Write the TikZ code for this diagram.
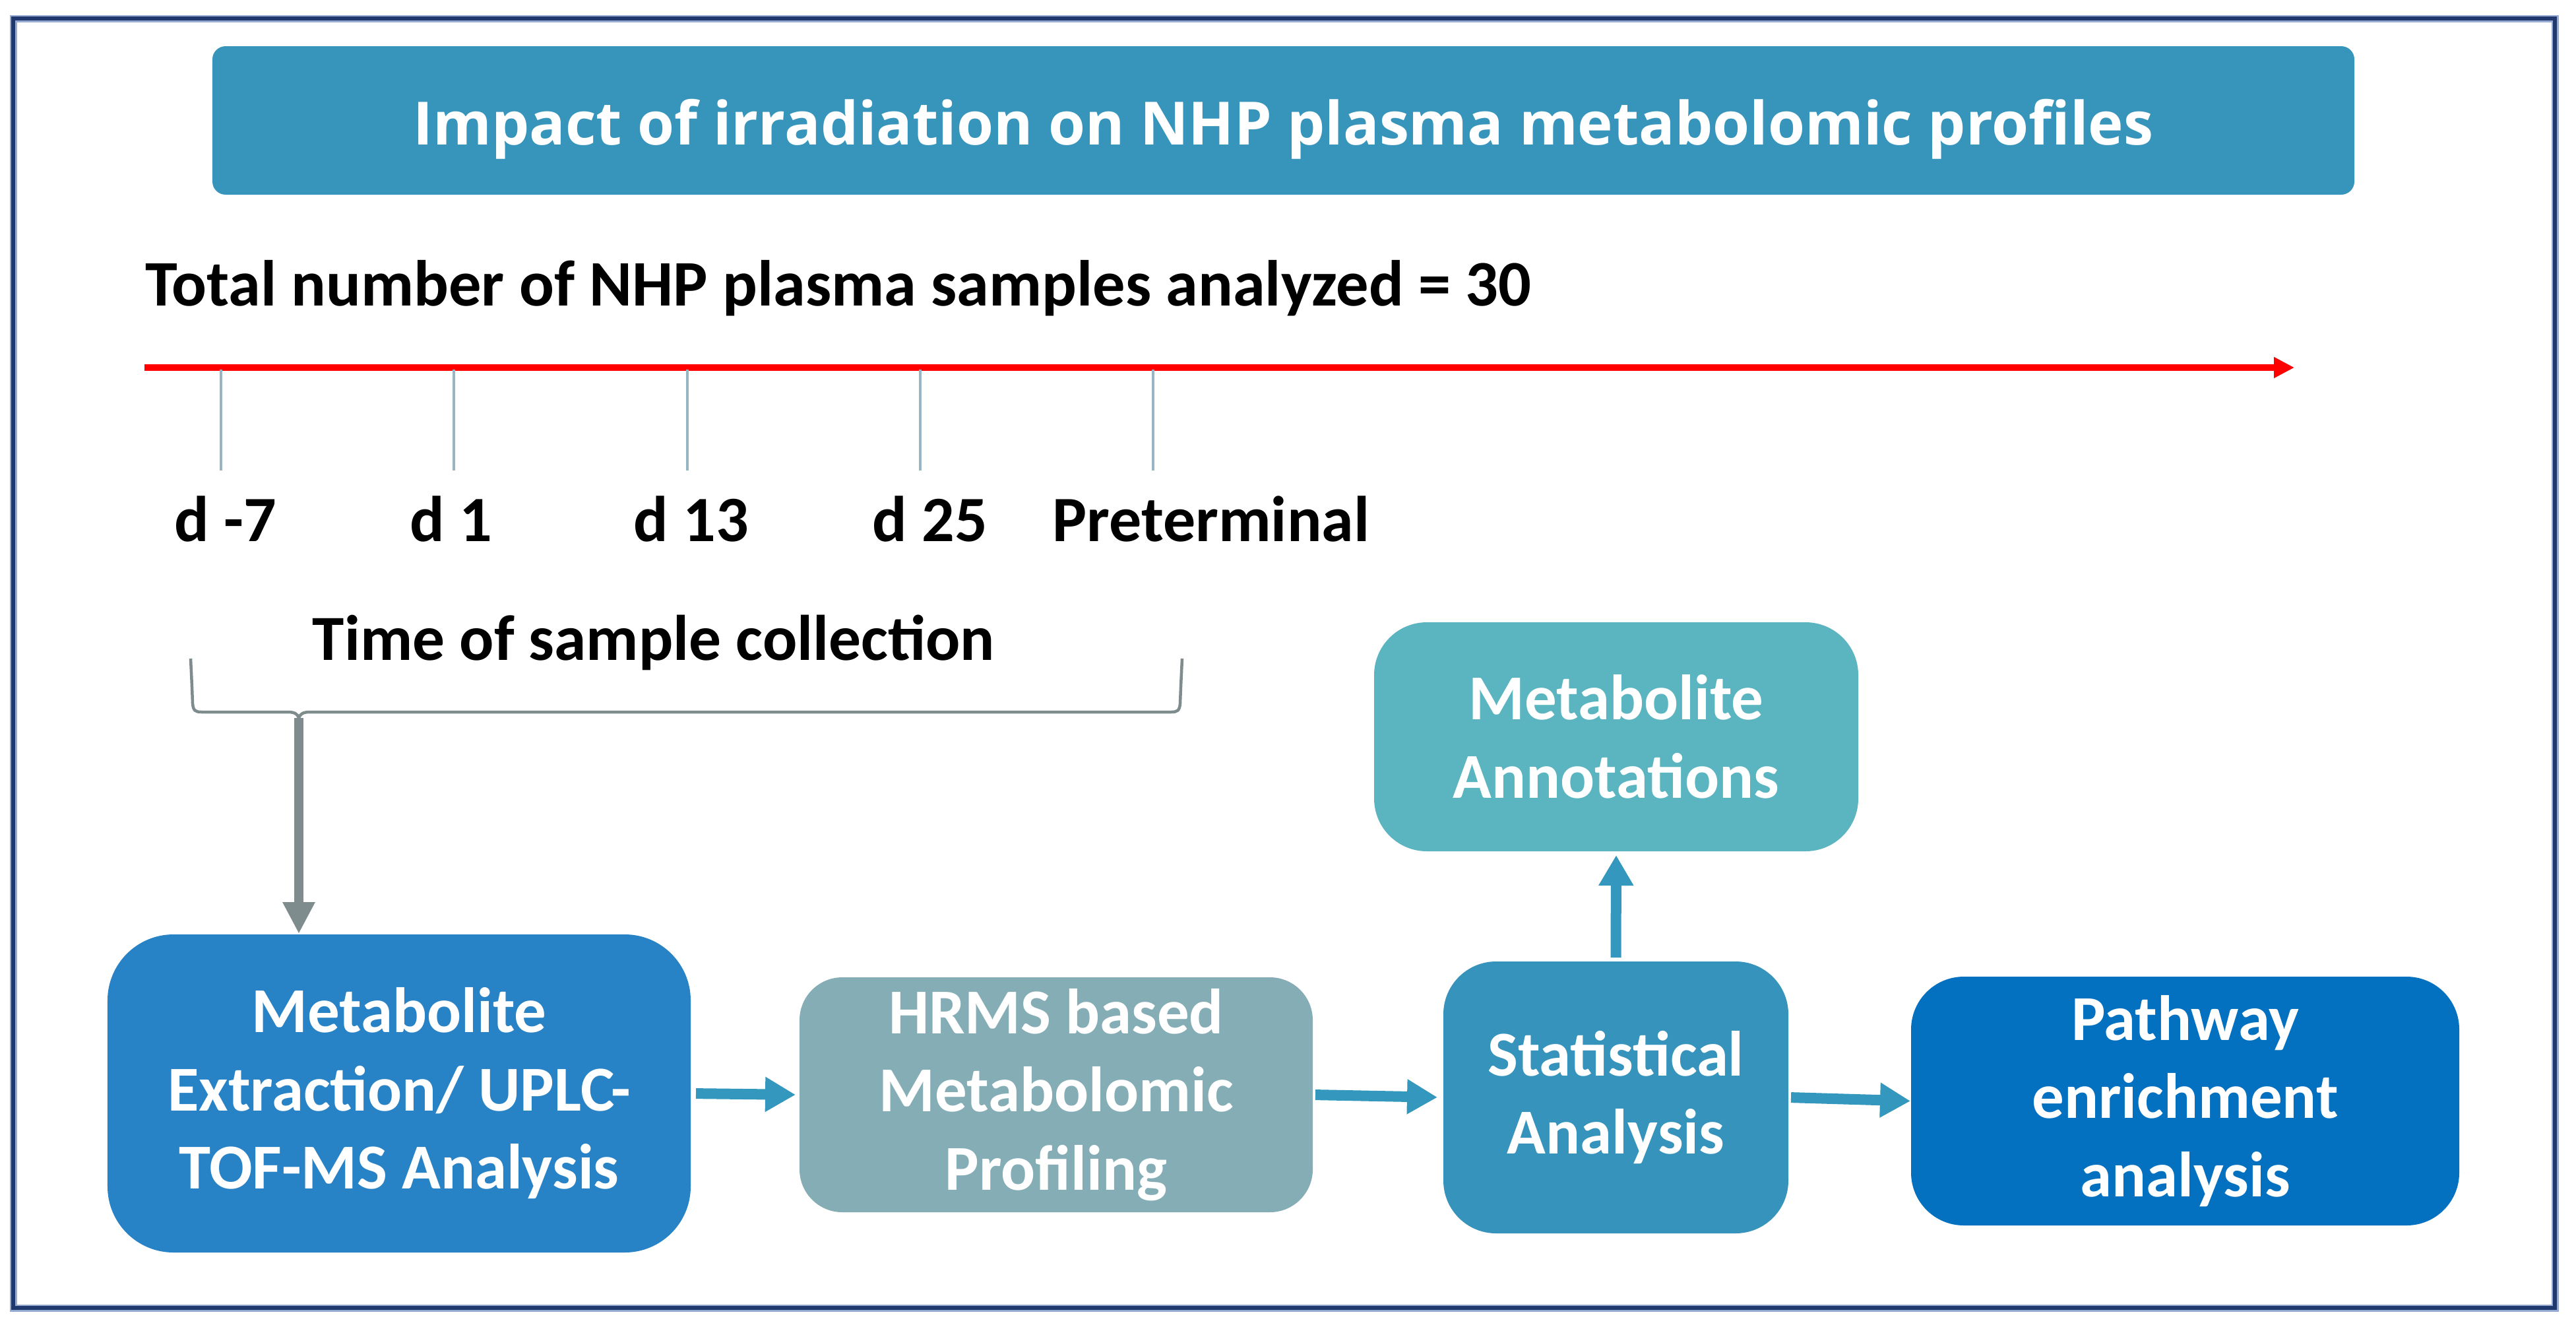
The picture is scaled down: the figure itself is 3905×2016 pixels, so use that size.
\documentclass[tikz,border=0pt]{standalone}
\usepackage{fontspec}
\setmainfont{Carlito}
\newfontfamily\titlefont{Open Sans}
\usetikzlibrary{arrows.meta}
\definecolor{titleblue}{RGB}{55,149,188}
\definecolor{boxone}{RGB}{40,130,198}
\definecolor{hrmsc}{RGB}{133,173,181}
\definecolor{annotc}{RGB}{90,181,192}
\definecolor{statc}{RGB}{54,147,187}
\definecolor{pathc}{RGB}{3,112,192}
\definecolor{tealarr}{RGB}{52,152,190}
\definecolor{grayarr}{RGB}{127,140,141}
\definecolor{tickc}{RGB}{150,182,194}
\definecolor{navy}{RGB}{31,56,110}
\definecolor{navylight}{RGB}{150,170,210}
\begin{document}
\begin{tikzpicture}[x=0.2pt,y=-0.2pt,
  boxtext/.style={text=white,font=\fontsize{19.4pt}{23.7pt}\selectfont\bfseries,align=center,inner sep=0pt},
  flowbox/.style={boxtext,rectangle,draw=none},
  lbl/.style={font=\fontsize{19.6pt}{24pt}\selectfont\bfseries,inner sep=0pt,anchor=base},
  tealarrow/.style={draw=tealarr,line width=3.2pt,-{Triangle[length=9.2pt,width=10pt]}},
  grayarrow/.style={draw=grayarr,line width=2.8pt,-{Triangle[length=9.6pt,width=9.2pt]}},
  redarrow/.style={draw=red,line width=2pt,-{Triangle[length=6.2pt,width=6pt]}},
  tickline/.style={draw=tickc,line width=0.8pt},
  bracestyle/.style={draw=grayarr,line width=0.9pt,line join=round}
]
\useasboundingbox (0,0) rectangle (3905,2016);
\fill[white] (0,0) rectangle (3905,2016);
% outer frame
\draw[navylight,line width=2.2pt] (20,28) rectangle (3873,1982);
\draw[navy,line width=1.1pt] (20,28) rectangle (3873,1982);

% title
\node[boxtext,fill=titleblue,rounded corners=4pt,minimum width=649.4pt,minimum height=45pt,text height=15pt,text depth=0.4pt,font=\titlefont\fontsize{18.1pt}{22pt}\selectfont\bfseries] (title) at (1945.5,182.5) {Impact of irradiation on NHP plasma metabolomic profiles};

% total text
\node[lbl,anchor=base west,font=\fontsize{19.7pt}{24pt}\selectfont\bfseries] (total) at (219,463) {Total number of NHP plasma samples analyzed = 30};

% timeline
\coordinate (tlstart) at (219,557);
\coordinate (tlend) at (3478,557);
\draw[redarrow] (tlstart) -- (tlend);
\foreach \xx/\nm in {335/t1,688/t2,1042/t3,1395/t4,1748/t5}{
  \coordinate (\nm a) at (\xx,560);
  \coordinate (\nm b) at (\xx,713);
  \draw[tickline] (\nm a) -- (\nm b);
}
\node[lbl] (d1) at (342,820) {d -7};
\node[lbl] (d2) at (684,820) {d 1};
\node[lbl] (d3) at (1048,820) {d 13};
\node[lbl] (d4) at (1410,820) {d 25};
\node[lbl] (d5) at (1836,820) {Preterminal};
\node[lbl,font=\fontsize{19.5pt}{24pt}\selectfont\bfseries] (tsc) at (991,1000) {Time of sample collection};

% brace
\coordinate (bracetip) at (453,1088);
\draw[bracestyle] (289,998) .. controls (291,1040) .. (292,1066) .. controls (293,1077) and (296,1079) .. (306,1079)
  -- (436,1079) .. controls (447,1079) and (451,1082) .. (bracetip)
  .. controls (455,1082) and (459,1079) .. (470,1079)
  -- (1775,1079) .. controls (1785,1079) and (1788,1077) .. (1789,1066) .. controls (1790,1040) .. (1792,998);

% boxes
\node[flowbox,fill=boxone,rounded corners=20pt,minimum width=176.8pt,minimum height=96.4pt] (ext) at (605,1657) {Metabolite\\Extraction/ UPLC-\\TOF-MS Analysis};
\node[flowbox,fill=hrmsc,rounded corners=13pt,minimum width=155.6pt,minimum height=71.2pt] (hrms) at (1601,1659) {HRMS based\\Metabolomic\\Profiling};
\node[flowbox,fill=annotc,rounded corners=16pt,minimum width=146.8pt,minimum height=69.4pt] (annot) at (2450,1116.5) {Metabolite\\Annotations};
\node[flowbox,fill=statc,rounded corners=16pt,minimum width=104.6pt,minimum height=82.4pt] (stat) at (2449.5,1663) {Statistical\\Analysis};
\node[flowbox,fill=pathc,rounded corners=16pt,minimum width=166.2pt,minimum height=75.4pt] (path) at (3312.5,1668.5) {Pathway\\enrichment\\analysis};

% connectors
\draw[grayarrow] (bracetip) -- (bracetip |- ext.north);
\draw[tealarrow,shorten <=1.4pt,shorten >=1pt] (ext.east) -- (hrms.west);
\draw[tealarrow,shorten <=0.6pt,shorten >=1.6pt] (hrms.east) -- (stat.west);
\draw[tealarrow,shorten <=0.6pt,shorten >=0pt] (stat.east) -- (path.west);
\draw[tealarrow,shorten <=1pt,shorten >=1pt] (stat.north) -- (annot.south);
\end{tikzpicture}
\end{document}
